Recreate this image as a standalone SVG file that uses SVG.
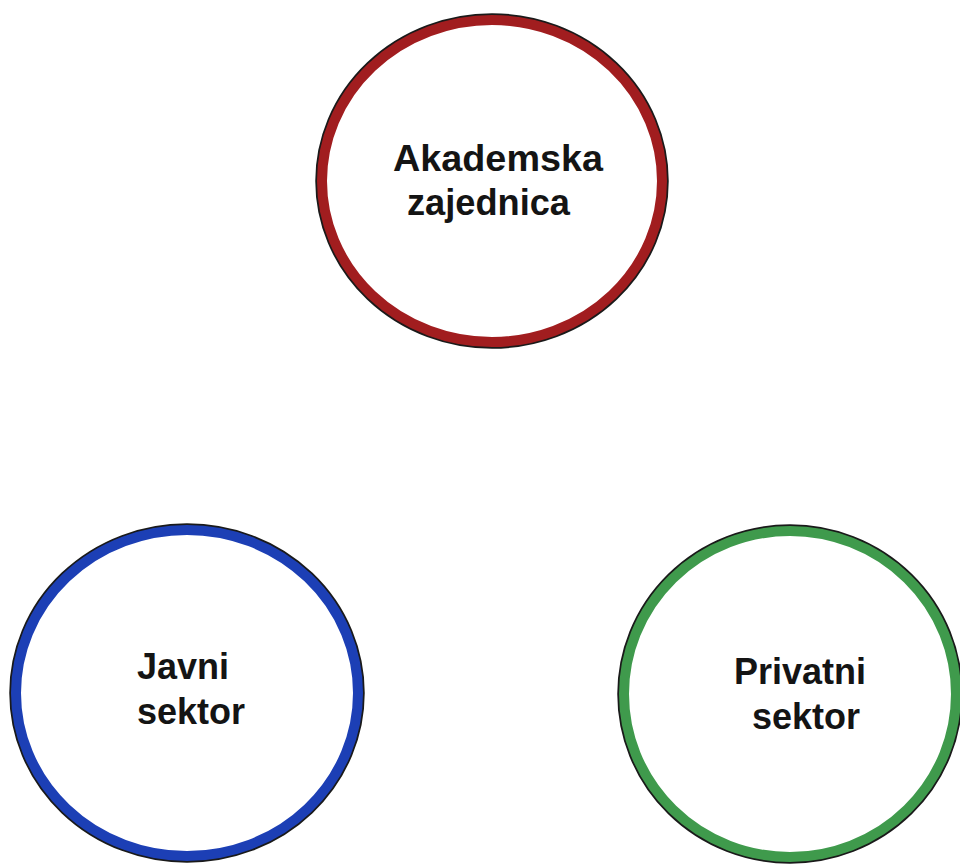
<svg xmlns="http://www.w3.org/2000/svg" width="960" height="864" viewBox="0 0 960 864">
<style>
.edge{fill:none;stroke:#1a1a1a;stroke-width:13.5}
.ring{fill:#fff;stroke-width:10}
.red{stroke:#A11D1F}
.blue{stroke:#1C3FB5}
.green{stroke:#3F9A4C}
.lbl{font-family:"Liberation Sans",Arial,sans-serif;font-weight:bold;font-size:36px;fill:#141414}
</style>
<rect width="960" height="864" fill="#fff"/>
<g id="connectors"></g>
<g id="akademska">
<ellipse class="edge" cx="492" cy="181" rx="170" ry="161"/>
<ellipse class="ring red" cx="492" cy="181" rx="170" ry="161"/>
<text class="lbl" x="393" y="171" textLength="210" lengthAdjust="spacingAndGlyphs">Akademska</text>
<text class="lbl" x="407" y="215" textLength="163" lengthAdjust="spacingAndGlyphs">zajednica</text>
</g>
<g id="javni">
<ellipse class="edge" cx="187" cy="693" rx="171" ry="163"/>
<ellipse class="ring blue" cx="187" cy="693" rx="171" ry="163"/>
<text class="lbl" x="137" y="679">Javni</text>
<text class="lbl" x="137" y="724">sektor</text>
</g>
<g id="privatni">
<ellipse class="edge" cx="790" cy="694" rx="166" ry="163"/>
<ellipse class="ring green" cx="790" cy="694" rx="166" ry="163"/>
<text class="lbl" x="734" y="684">Privatni</text>
<text class="lbl" x="752" y="729">sektor</text>
</g>
</svg>
